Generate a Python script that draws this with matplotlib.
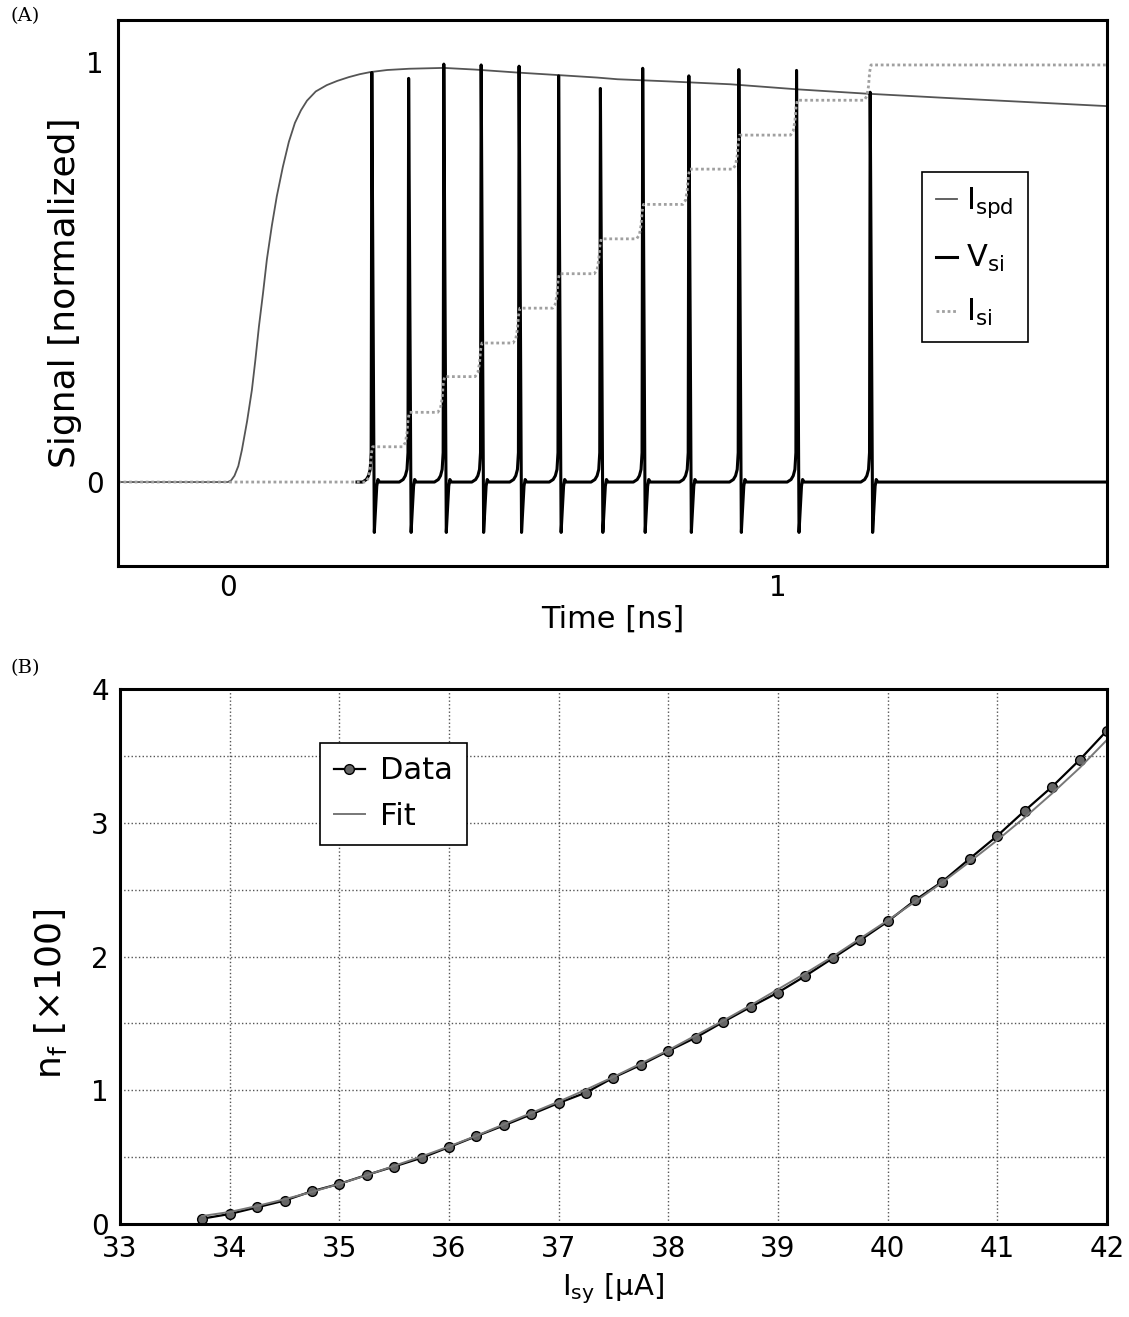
import numpy as np
import matplotlib
matplotlib.use('Agg')
import matplotlib.pyplot as plt

# ---- panel (A): normalized signals vs time ----
ispd_t = [-0.2, 0.0, 0.006, 0.012, 0.019, 0.0255, 0.035, 0.0437, 0.05, 0.0565, 0.064, 0.071,
          0.08, 0.089, 0.1, 0.111, 0.122, 0.133, 0.144, 0.16, 0.18, 0.199, 0.22, 0.24,
          0.259, 0.29, 0.33, 0.393, 0.45, 0.526, 0.6, 0.672, 0.709, 0.8, 0.915, 1.036,
          1.158, 1.3, 1.45, 1.6]
ispd_v = [0.0, 0.0, 0.004, 0.015, 0.038, 0.076, 0.145, 0.219, 0.29, 0.37, 0.45, 0.53,
          0.61, 0.68, 0.75, 0.81, 0.855, 0.885, 0.908, 0.93, 0.945, 0.955, 0.964, 0.971,
          0.976, 0.981, 0.984, 0.986, 0.982, 0.975, 0.969, 0.963, 0.959, 0.954, 0.947, 0.935,
          0.925, 0.915, 0.905, 0.895]

spike_times = [0.262, 0.329, 0.393, 0.461, 0.530, 0.602, 0.678, 0.755, 0.839, 0.930, 1.035, 1.169]
spike_peaks = [0.975, 0.961, 0.995, 0.993, 0.990, 0.967, 0.937, 0.985, 0.967, 0.982, 0.980, 0.928]
isi_levels = [0.084, 0.166, 0.251, 0.331, 0.414, 0.496, 0.579, 0.661, 0.745, 0.826, 0.909, 0.993]

pulse_dt = [-0.017, -0.010, -0.006, -0.003, -0.0012, 0.0, 0.0045, 0.007, 0.009, 0.011, 0.014]
pulse_v = [0.0, 0.006, 0.015, 0.03, 0.07, None, -0.12, -0.06, -0.01, 0.006, 0.0]
# rounded step of I_si: (offset from spike [ns], fraction of the step)
step_dt = [-0.011, -0.006, -0.003, -0.001, 0.0015]
step_f = [0.0, 0.12, 0.4, 0.8, 1.0]

# ---- panel (B): n_f vs I_sy ----
isy = [33.75, 34.0, 34.25, 34.5, 34.75, 35.0, 35.25, 35.5, 35.75, 36.0, 36.25, 36.5,
       36.75, 37.0, 37.25, 37.5, 37.75, 38.0, 38.25, 38.5, 38.75, 39.0, 39.25, 39.5,
       39.75, 40.0, 40.25, 40.5, 40.75, 41.0, 41.25, 41.5, 41.75, 42.0]
nf_data = [0.04, 0.075, 0.125, 0.175, 0.245, 0.30, 0.367, 0.43, 0.495, 0.575, 0.657, 0.737,
           0.82, 0.905, 0.983, 1.095, 1.19, 1.294, 1.394, 1.511, 1.623, 1.731, 1.855, 1.988,
           2.122, 2.262, 2.421, 2.561, 2.733, 2.903, 3.09, 3.27, 3.47, 3.69]
nf_fit = [0.06, 0.09, 0.135, 0.185, 0.24, 0.30, 0.365, 0.435, 0.505, 0.58, 0.66, 0.745,
          0.83, 0.915, 1.005, 1.10, 1.20, 1.30, 1.41, 1.52, 1.635, 1.755, 1.875, 2.0,
          2.135, 2.27, 2.41, 2.555, 2.71, 2.87, 3.04, 3.22, 3.41, 3.62]


def build_vsi():
    t, v = [0.235], [0.0]
    for tk, pk in zip(spike_times, spike_peaks):
        for dt, val in zip(pulse_dt, pulse_v):
            t.append(tk + dt)
            v.append(pk if val is None else val)
    t.append(1.6)
    v.append(0.0)
    return t, v


def build_isi():
    t, v = [-0.2], [0.0]
    prev = 0.0
    for tk, lev in zip(spike_times, isi_levels):
        for dt, f in zip(step_dt, step_f):
            t.append(tk + dt)
            v.append(prev + f * (lev - prev))
        prev = lev
    t.append(1.6)
    v.append(prev)
    return t, v


fig = plt.figure(figsize=(11.29, 13.17), dpi=100)

# ----- (A) -----
ax = fig.add_axes([0.1045, 0.5702, 0.876, 0.4146])
vt, vv = build_vsi()
it, iv = build_isi()
ax.plot(ispd_t, ispd_v, color='#555555', lw=1.3, label=r'$\mathregular{I_{spd}}$')
ax.plot(vt, vv, color='black', lw=2.2, label=r'$\mathregular{V_{si}}$')
ax.plot(it, iv, color='#a0a0a0', lw=2.0, ls=(0, (1, 1)), label=r'$\mathregular{I_{si}}$')
ax.set_xlim(-0.2, 1.6)
ax.set_ylim(-0.2, 1.1)
ax.set_xticks([0, 1])
ax.set_yticks([0, 1])
ax.tick_params(labelsize=20, length=0, pad=6)
ax.tick_params(axis='y', pad=10)
ax.set_xlabel('Time [ns]', fontsize=22, labelpad=2)
ax.set_ylabel('Signal [normalized]', fontsize=26)
ax.yaxis.set_label_coords(-0.036, 0.5)
for s in ax.spines.values():
    s.set_linewidth(2.2)
leg = ax.legend(loc='upper left', bbox_to_anchor=(0.813, 0.722), fontsize=22,
                handlelength=0.7, handletextpad=0.3, labelspacing=0.75,
                fancybox=False, framealpha=1, borderpad=0.45, borderaxespad=0)
leg.get_frame().set_edgecolor('black')
leg.get_frame().set_linewidth(1.2)

# ----- (B) -----
bx = fig.add_axes([0.1063, 0.0706, 0.8742, 0.4062])
bx.plot(isy, nf_data, color='black', lw=1.6, marker='o', ms=7,
        mfc='#666666', mec='black', mew=1.0, label='Data')
bx.plot(isy, nf_fit, color='#777777', lw=1.4, label='Fit')
bx.set_xlim(33, 42)
bx.set_ylim(0, 4)
bx.set_xticks(range(33, 43))
bx.set_yticks(np.arange(0, 4.01, 0.5))
bx.set_yticklabels(['0', '', '1', '', '2', '', '3', '', '4'])
bx.tick_params(labelsize=20, length=0, pad=8)
bx.grid(True, ls=':', color='#555555', lw=1.0)
bx.set_xlabel(r'$\mathregular{I_{sy}}$ [μA]', fontsize=21, labelpad=6)
bx.set_ylabel(r'$\mathregular{n_f}$ [×100]', fontsize=26)
bx.yaxis.set_label_coords(-0.052, 0.43)
for s in bx.spines.values():
    s.set_linewidth(2.2)
leg2 = bx.legend(loc='upper left', bbox_to_anchor=(0.203, 0.9), fontsize=22,
                 handlelength=1.0, handletextpad=0.5, labelspacing=0.55,
                 fancybox=False, framealpha=1, borderpad=0.45, borderaxespad=0)
leg2.get_frame().set_edgecolor('black')
leg2.get_frame().set_linewidth(1.2)

fig.text(0.009, 0.988, '(A)', fontsize=14, family='serif', va='center')
fig.text(0.009, 0.493, '(B)', fontsize=14, family='serif', va='center')

fig.savefig('out.png', dpi=100)
